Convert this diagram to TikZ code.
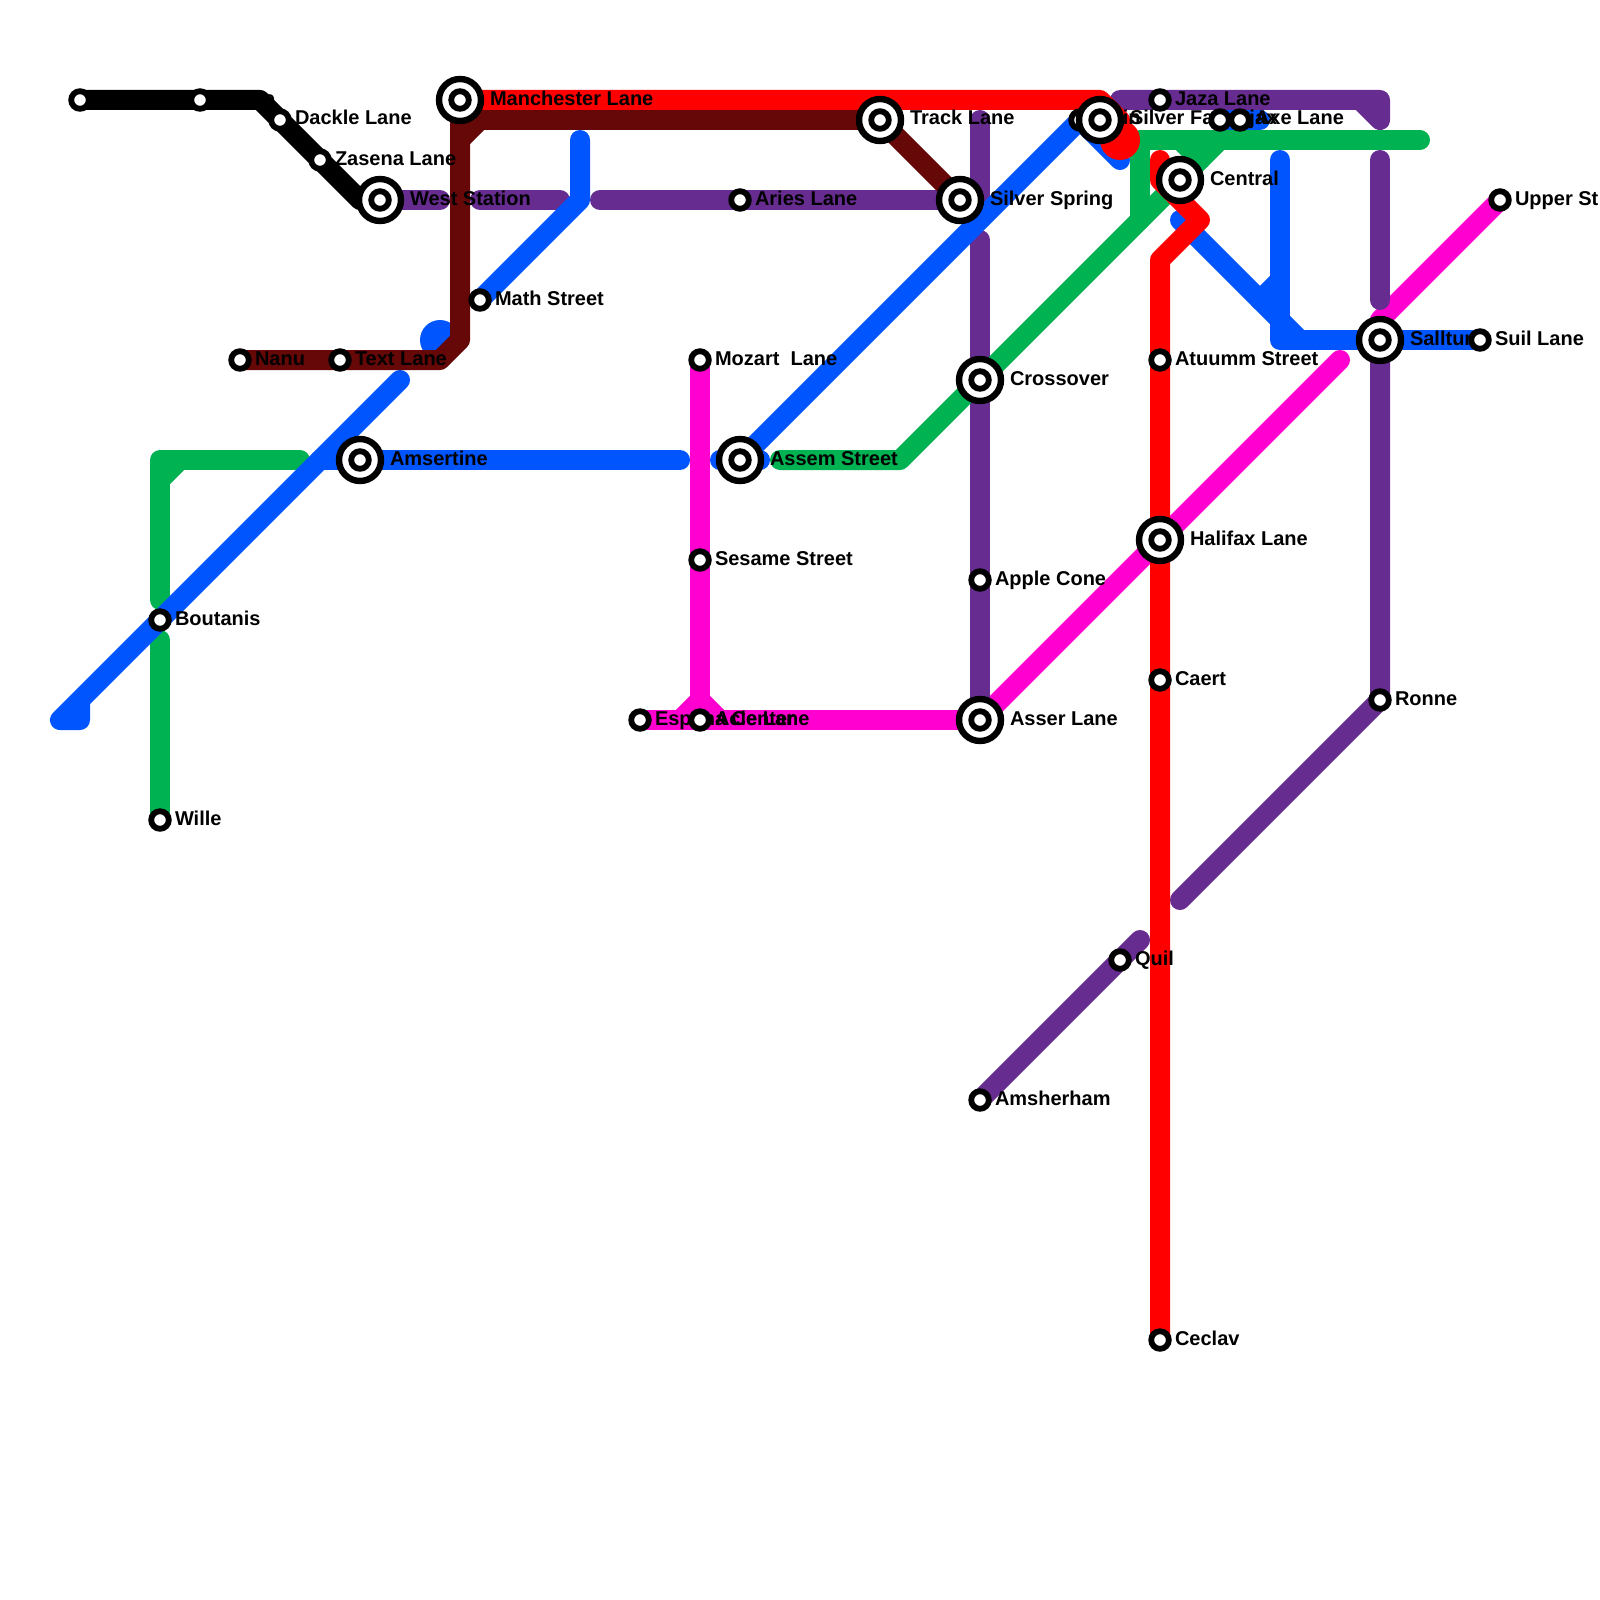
\documentclass[tikz,border=0pt]{standalone}
\usepackage{fontspec}
\setmainfont{Liberation Sans}
\definecolor{mred}{HTML}{FF0000}
\definecolor{mblue}{HTML}{0055FF}
\definecolor{mgreen}{HTML}{00B251}
\definecolor{mpurple}{HTML}{662C90}
\definecolor{mpink}{HTML}{FF00D0}
\definecolor{mbrown}{HTML}{660708}
\tikzset{
  metro/.style={line width=10pt,line cap=round,line join=round},
  lbl/.style={anchor=base west,inner sep=0pt,outer sep=0pt,font=\bfseries\fontsize{10}{12}\selectfont,text=black},
  nearl/.style={lbl,xshift=7.5pt,yshift=-2.5pt},
  farl/.style={lbl,xshift=15pt,yshift=-2.5pt},
  smallst/.style={circle,draw=black,fill=white,line width=2.9pt,inner sep=0pt,outer sep=0pt,minimum size=8.8pt},
  bigst/.style={circle,draw=black,fill=white,line width=3.2pt,inner sep=0pt,outer sep=0pt,minimum size=21pt},
}
\begin{document}
\begin{tikzpicture}[x=0.5pt,y=-0.5pt]
\useasboundingbox (0,0) rectangle (1600,1600);
% stations
\coordinate (k1) at (80,100);
\coordinate (k2) at (200,100);
\coordinate (dackle) at (280,120);
\coordinate (zasena) at (320,160);
\coordinate (west) at (380,200);
\coordinate (manch) at (460,100);
\coordinate (track) at (880,120);
\coordinate (aries) at (740,200);
\coordinate (spring) at (960,200);
\coordinate (math) at (480,300);
\coordinate (nanu) at (240,360);
\coordinate (text) at (340,360);
\coordinate (amsert) at (360,460);
\coordinate (assem) at (740,460);
\coordinate (mozart) at (700,360);
\coordinate (sesame) at (700,560);
\coordinate (espl) at (640,720);
\coordinate (ace) at (700,720);
\coordinate (asser) at (980,720);
\coordinate (apple) at (980,580);
\coordinate (cross) at (980,380);
\coordinate (boutanis) at (160,620);
\coordinate (wille) at (160,820);
\coordinate (main) at (1080,120);
\coordinate (falls) at (1100,120);
\coordinate (jaza) at (1160,100);
\coordinate (ajax) at (1220,120);
\coordinate (axe) at (1240,120);
\coordinate (central) at (1180,180);
\coordinate (atuumm) at (1160,360);
\coordinate (halifax) at (1160,540);
\coordinate (caert) at (1160,680);
\coordinate (ceclav) at (1160,1340);
\coordinate (quil) at (1120,960);
\coordinate (amsher) at (980,1100);
\coordinate (ronne) at (1380,700);
\coordinate (salltu) at (1380,340);
\coordinate (suil) at (1480,340);
\coordinate (upper) at (1500,200);
% magenta
\draw[metro,mpink] (mozart) -- (ace);
\draw[metro,mpink] (espl) -- (asser);
\draw[metro,mpink] (680,720) -- (700,700) -- (720,720);
\draw[metro,mpink] (asser) -- (1340,360);
\draw[metro,mpink] (1380,320) -- (upper);
% purple
\draw[metro,mpurple] (west) -- (440,200);
\draw[metro,mpurple] (480,200) -- (560,200);
\draw[metro,mpurple] (600,200) -- (aries) -- (spring) -- (980,200) -- (980,120);
\draw[metro,mpurple] (980,240) -- (cross) -- (apple) -- (asser);
\draw[metro,mpurple] (1120,100) -- (jaza) -- (1380,100) -- (1380,120) -- (1360,100);
\draw[metro,mpurple] (1380,160) -- (1380,300);
\draw[metro,mpurple] (salltu) -- (ronne) -- (1180,900);
\draw[metro,mpurple] (1140,940) -- (amsher);
% green
\draw[metro,mgreen] (160,600) -- (160,460) -- (300,460);
\draw[metro,mgreen] (160,480) -- (180,460);
\draw[metro,mgreen] (160,640) -- (wille);
\draw[metro,mgreen] (780,460) -- (900,460) -- (cross) -- (1220,140);
\draw[metro,mgreen] (1140,220) -- (1140,140) -- (1420,140);
\draw[metro,mgreen] (1180,140) -- (1200,160);
% blue
\draw[metro,mblue] (80,700) -- (80,720) -- (60,720) -- (boutanis) -- (400,380);
\draw[metro,mblue] (320,460) -- (amsert) -- (680,460);
\draw[metro,mblue] (720,460) -- (760,460);
\draw[metro,mblue] (assem) -- (main) -- (1120,160);
\draw[metro,mblue] (math) -- (580,200) -- (580,140);
\draw[metro,mblue] (1180,220) -- (1300,340);
\draw[metro,mblue] (1280,160) -- (1280,340) -- (suil);
\draw[metro,mblue] (1260,300) -- (1280,280);
\draw[metro,mblue] (ajax) -- (1260,120);
\fill[mblue] (440,340) circle[radius=10pt];
% brown
\draw[metro,mbrown] (nanu) -- (440,360) -- (460,340) -- (460,120) -- (track) -- (spring);
\draw[metro,mbrown] (460,140) -- (480,120);
% red
\draw[metro,mred] (manch) -- (1100,100) -- (1120,120);
\fill[mred] (1120,140) circle[radius=10pt];
\draw[metro,mred] (1160,160) -- (1160,180) -- (1200,220) -- (1160,260) -- (ceclav);
% black
\draw[metro,black] (k1) -- (260,100) -- (360,200) -- (west);
% labels
\node[nearl] (l-k2) at (k2) {Castle};
\node[nearl] (l-dackle) at (dackle) {Dackle Lane};
\node[nearl] (l-zasena) at (zasena) {Zasena Lane};
\node[farl] (l-west) at (west) {West Station};
\node[farl] (l-manch) at (manch) {Manchester Lane};
\node[farl] (l-track) at (track) {Track Lane};
\node[nearl] (l-aries) at (aries) {Aries Lane};
\node[farl] (l-spring) at (spring) {Silver Spring};
\node[nearl] (l-math) at (math) {Math Street};
\node[nearl] (l-nanu) at (nanu) {Nanu};
\node[nearl] (l-text) at (text) {Text Lane};
\node[farl] (l-amsert) at (amsert) {Amsertine};
\node[farl] (l-assem) at (assem) {Assem Street};
\node[nearl] (l-mozart) at (mozart) {Mozart\ \ Lane};
\node[nearl] (l-sesame) at (sesame) {Sesame Street};
\node[nearl] (l-espl) at (espl) {Espana Center};
\node[nearl] (l-ace) at (ace) {Acle Lane};
\node[farl] (l-asser) at (asser) {Asser Lane};
\node[nearl] (l-apple) at (apple) {Apple Cone};
\node[farl] (l-cross) at (cross) {Crossover};
\node[nearl] (l-boutanis) at (boutanis) {Boutanis};
\node[nearl] (l-wille) at (wille) {Wille};
\node[nearl] (l-main) at (main) {Main};
\node[farl] (l-falls) at (falls) {Silver Falls};
\node[nearl] (l-jaza) at (jaza) {Jaza Lane};
\node[nearl] (l-ajax) at (ajax) {Ajax};
\node[nearl] (l-axe) at (axe) {Axe Lane};
\node[farl] (l-central) at (central) {Central};
\node[nearl] (l-atuumm) at (atuumm) {Atuumm Street};
\node[farl] (l-halifax) at (halifax) {Halifax Lane};
\node[nearl] (l-caert) at (caert) {Caert};
\node[nearl] (l-ceclav) at (ceclav) {Ceclav};
\node[nearl] (l-quil) at (quil) {Quil};
\node[nearl] (l-amsher) at (amsher) {Amsherham};
\node[nearl] (l-ronne) at (ronne) {Ronne};
\node[farl] (l-salltu) at (salltu) {Sallturn};
\node[nearl] (l-suil) at (suil) {Suil Lane};
\node[nearl] (l-upper) at (upper) {Upper St};
% small stations
\foreach \s in {k1,k2,dackle,zasena,aries,math,nanu,text,mozart,sesame,espl,ace,apple,boutanis,wille,main,jaza,ajax,axe,atuumm,caert,ceclav,quil,amsher,ronne,suil,upper}
  \node[smallst] (s-\s) at (\s) {};
% interchanges
\foreach \s in {west,manch,track,spring,amsert,assem,asser,cross,falls,central,halifax,salltu} {
  \node[bigst] (b-\s) at (\s) {};
  \node[smallst] (s-\s) at (\s) {};
}
\end{tikzpicture}
\end{document}
